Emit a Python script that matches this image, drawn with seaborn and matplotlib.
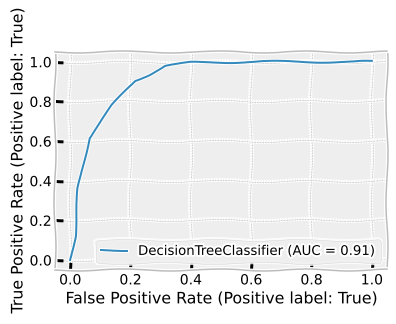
import numpy as np
import pandas as pd
import matplotlib
matplotlib.use("Agg")
import matplotlib.pyplot as plt
import seaborn as sns

fpr = [0.0, 0.016, 0.027, 0.062, 0.14, 0.215, 0.26, 0.315, 0.40, 0.60, 1.0]
tpr = [0.0, 0.12, 0.36, 0.615, 0.78, 0.905, 0.935, 0.98, 0.995, 1.0, 1.0]
label = "DecisionTreeClassifier (AUC = 0.91)"

plt.xkcd()
plt.style.use("bmh")
plt.rcParams["font.family"] = ["DejaVu Sans"]
plt.rcParams["axes.labelsize"] = 15.8

df = pd.DataFrame({"fpr": fpr, "tpr": tpr})

fig, ax = plt.subplots(figsize=(5.5, 4.5), dpi=72)
fig.subplots_adjust(left=0.139, right=0.977, top=0.84, bottom=0.167)
sns.lineplot(data=df, x="fpr", y="tpr", ax=ax, label=label, estimator=None,
             color="#348ABD", linewidth=2)
ax.set_xlabel("False Positive Rate (Positive label: True)")
ax.set_ylabel("True Positive Rate (Positive label: True)")
ax.legend(loc="lower right", fontsize=13.3)
fig.savefig("out.png", dpi=72)
